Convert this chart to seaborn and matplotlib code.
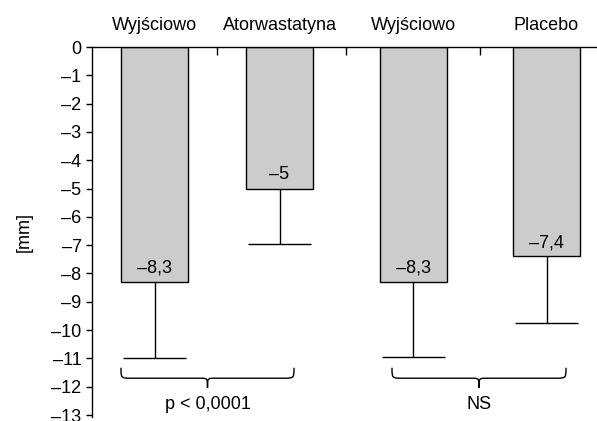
import matplotlib
matplotlib.use("Agg")
import matplotlib.pyplot as plt
from matplotlib.path import Path
from matplotlib.patches import PathPatch
import numpy as np
import pandas as pd
import seaborn as sns

# Values
groups = ["Wyjściowo", "Atorwastatyna", "Wyjściowo", "Placebo"]
change_mm = [-8.3, -5.0, -8.3, -7.4]
sd_mm = [2.7, 1.95, 2.65, 2.35]
value_labels = ["–8,3", "–5", "–8,3", "–7,4"]
y_ticks = list(range(0, -14, -1))
y_tick_labels = ["0"] + [f"–{abs(t)}" for t in y_ticks[1:]]
comparisons = ["p < 0,0001", "NS"]

# Layout
bar_pos = [0.0, 1.0, 2.068, 3.136]
brace_spans = [(-0.268, 1.116), (1.9, 3.292)]

sns.set_style("white")
plt.rcParams["font.family"] = ["Liberation Sans", "DejaVu Sans"]
plt.rcParams["font.size"] = 13
for key in ["text.color", "axes.labelcolor", "xtick.color", "ytick.color"]:
    plt.rcParams[key] = "black"

fig = plt.figure(figsize=(5.97, 4.21), dpi=100)
ax = fig.add_axes([92 / 597, 4 / 421, 505 / 597, 370 / 421])

df = pd.DataFrame({"pos": bar_pos, "change": change_mm})
sns.barplot(data=df, x="pos", y="change", native_scale=True, width=0.536,
            color="#cccccc", saturation=1, edgecolor="black", linewidth=1.0,
            errorbar=None, ax=ax)

# one-sided (downward) SD whiskers
pos = np.array(bar_pos)
vals = np.array(change_mm)
lows = vals - np.array(sd_mm)
ax.vlines(pos, vals, lows, color="black", lw=1.0, zorder=3)
ax.hlines(lows, pos - 0.252, pos + 0.252, color="black", lw=1.0, zorder=3)

for x, v, t in zip(bar_pos, change_mm, value_labels):
    ax.text(x, v + 0.33, t, ha="center", va="baseline", fontsize=13)

# braces under each comparison
def brace(x0, x1, ytop, ymid, ytip, r=0.085, rt=0.06):
    xc = (x0 + x1) / 2
    verts = [
        (x0, ytop), (x0, ymid), (x0, ymid), (x0 + r, ymid),
        (xc - rt, ymid),
        (xc, ymid), (xc, ymid), (xc, ytip),
        (xc, ymid), (xc, ymid), (xc + rt, ymid),
        (x1 - r, ymid),
        (x1, ymid), (x1, ymid), (x1, ytop),
    ]
    codes = [Path.MOVETO, Path.CURVE4, Path.CURVE4, Path.CURVE4,
             Path.LINETO,
             Path.CURVE4, Path.CURVE4, Path.CURVE4,
             Path.CURVE4, Path.CURVE4, Path.CURVE4,
             Path.LINETO,
             Path.CURVE4, Path.CURVE4, Path.CURVE4]
    ax.add_patch(PathPatch(Path(verts, codes), fill=False, lw=1.0,
                           edgecolor="black", clip_on=False))
    return xc

for (x0, x1), label in zip(brace_spans, comparisons):
    xc = brace(x0, x1, -11.33, -11.70, -12.04)
    ax.text(xc, -12.62, label, ha="center", va="center", fontsize=13)

ax.set_xlim(-0.5, 3.54)
ax.set_ylim(-13.07, 0)

ax.set_yticks(y_ticks)
ax.set_yticklabels(y_tick_labels)
ax.tick_params(axis="y", direction="out", length=4.5, width=1.0, pad=3,
               labelsize=13, color="black", left=True)

ax.xaxis.set_ticks_position("top")
ax.set_xticks(bar_pos)
ax.set_xticklabels(groups)
mids = [(a + b) / 2 for a, b in zip(bar_pos[:-1], bar_pos[1:])]
ax.set_xticks(mids, minor=True)
ax.tick_params(axis="x", which="major", length=0, pad=9, labelsize=13,
               top=True, bottom=False, labeltop=True, labelbottom=False)
ax.tick_params(axis="x", which="minor", direction="in", length=6, width=1.0,
               top=True, bottom=False, color="black")
ax.set_xlabel("")
ax.set_ylabel("[mm]", fontsize=13)
ax.yaxis.set_label_coords(-0.117, 0.5)

for side in ["right", "bottom"]:
    ax.spines[side].set_visible(False)
for side in ["left", "top"]:
    ax.spines[side].set_color("black")
    ax.spines[side].set_linewidth(1.0)

fig.savefig("out.png", dpi=100)
